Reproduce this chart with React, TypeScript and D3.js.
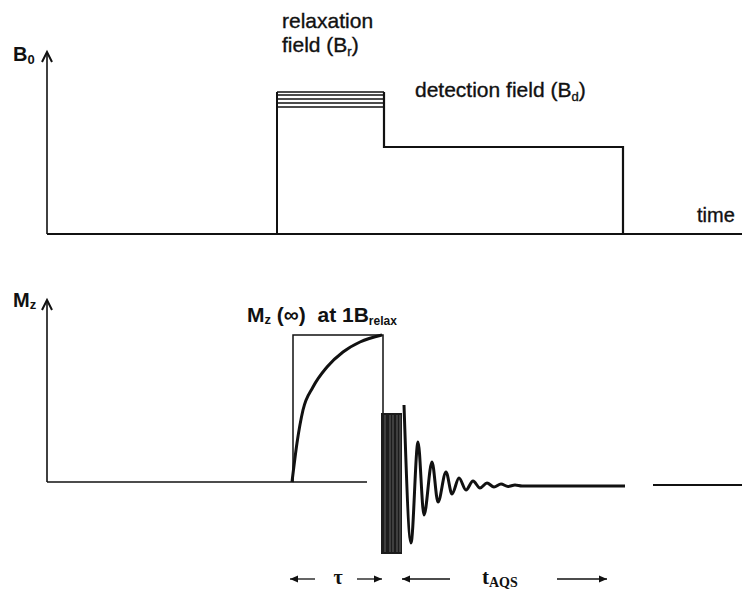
import * as d3 from 'd3';

// time axis in arbitrary units (0 = axis origin), field / magnetisation in arbitrary units
const fieldSwitchTimes = [230, 337, 576]; // relax on, relax off / detect on, detect off
const relaxLevels = [142, 139, 135, 131, 127];
const detectLevel = 87;
const axisEnd = 695;

const mzInf = 147;
const boxTimes = [246, 336];
const recovery: [number, number][] = [
  [245, 0], [250, 39], [256, 72], [266, 95], [280, 115], [296, 130], [313, 140], [335, 147],
];
const blockTimes = [334, 355];
const blockRange = [-72, 69];
const blockStripes = [338, 343, 346, 350, 353];
const oscillation: [number, number][] = [
  [357, 77], [364, -61], [371, 40], [377, -33], [385, 20], [391, -20], [399, 10], [405, -12],
  [412, 4], [419, -8], [426, 1], [433, -6], [440, -1], [447, -5], [454, -2], [461, -4.5],
  [468, -3], [475, -4], [578, -4],
];
const tailSegment = [606, 695];
const lowerBaselineEnd = 320;
const tauArrows = [[243, 268], [310, 335]];
const aqsArrows = [[355, 403], [510, 560]];

const W = 742, H = 593;
const sans = "'Liberation Sans', Arial, sans-serif";
const serif = "'Liberation Serif', 'Times New Roman', serif";
const ink = '#111';

const x = d3.scaleLinear().domain([0, 695]).range([47, 742]);
const yB = d3.scaleLinear().domain([0, 182]).range([234, 52]);
const yM = d3.scaleLinear().domain([0, 182]).range([482, 300]);

function AxisArrow({ px, py }: { px: number; py: number }) {
  return <polyline points={`${px - 5},${py + 10} ${px},${py} ${px + 5},${py + 10}`}
    fill="none" stroke={ink} strokeWidth={2} />;
}

function HArrow({ x1, x2, y, dir }: { x1: number; x2: number; y: number; dir: 1 | -1 }) {
  const tip = dir > 0 ? x2 : x1;
  return (
    <g>
      <line x1={x1} x2={x2} y1={y} y2={y} stroke={ink} strokeWidth={1.3} />
      <path d={`M${tip},${y} L${tip - dir * 8},${y - 3.5} L${tip - dir * 8},${y + 3.5} Z`} fill={ink} />
    </g>
  );
}

const label = { fontFamily: sans, fontSize: 21, fill: ink, stroke: ink, strokeWidth: 0.35 };

export default function App() {
  const [tOn, tOff, tDet] = fieldSwitchTimes;
  const recLine = d3.line<[number, number]>().x(d => x(d[0])).y(d => yM(d[1])).curve(d3.curveMonotoneX);
  const oscLine = d3.line<[number, number]>().x(d => x(d[0])).y(d => yM(d[1])).curve(d3.curveMonotoneX);
  const pulse = d3.line<[number, number]>().x(d => x(d[0])).y(d => yB(d[1]))([
    [tOn, 0], [tOn, relaxLevels[0]],
  ]);
  const detect = d3.line<[number, number]>().x(d => x(d[0])).y(d => yB(d[1]))([
    [tOff, relaxLevels[0]], [tOff, detectLevel], [tDet, detectLevel], [tDet, 0],
  ]);

  return (
    <svg width={W} height={H} style={{ position: 'absolute', left: 0, top: 0, background: '#fff' }}>
      {/* upper panel: B0 */}
      <line x1={x(0)} x2={x(0)} y1={yB(0)} y2={yB(182)} stroke={ink} strokeWidth={1.6} />
      <AxisArrow px={x(0)} py={yB(182)} />
      <line x1={x(0)} x2={x(axisEnd)} y1={yB(0)} y2={yB(0)} stroke={ink} strokeWidth={1.8} />
      <path d={pulse ?? ''} fill="none" stroke={ink} strokeWidth={2} />
      {relaxLevels.map((v, i) => (
        <line key={i} x1={x(tOn)} x2={x(tOff)} y1={yB(v)} y2={yB(v)} stroke={ink} strokeWidth={1.5} />
      ))}
      <path d={detect ?? ''} fill="none" stroke={ink} strokeWidth={2.2} />

      <text x={13} y={61} fontFamily={sans} fontWeight="bold" fontSize={20} fill={ink}>
        B<tspan fontSize={13} dy={3}>0</tspan>
      </text>
      <text x={282} y={28} {...label}>relaxation</text>
      <text x={282} y={52} {...label}>
        field (B<tspan fontSize={13} dy={4}>r</tspan><tspan dy={-4}>)</tspan>
      </text>
      <text x={415} y={97} {...label}>
        detection field (B<tspan fontSize={13} dy={4}>d</tspan><tspan dy={-4}>)</tspan>
      </text>
      <text x={697} y={222} {...label} fontSize={20}>time</text>

      {/* lower panel: Mz */}
      <line x1={x(0)} x2={x(0)} y1={yM(0)} y2={yM(182)} stroke={ink} strokeWidth={1.6} />
      <AxisArrow px={x(0)} py={yM(182)} />
      <line x1={x(0)} x2={x(lowerBaselineEnd)} y1={yM(0)} y2={yM(0)} stroke={ink} strokeWidth={1.6} />
      <path d={`M${x(boxTimes[0])},${yM(0)} V${yM(mzInf)} H${x(boxTimes[1])} V${yM(blockRange[1])}`}
        fill="none" stroke={ink} strokeWidth={1.5} />
      <path d={recLine(recovery) ?? ''} fill="none" stroke={ink} strokeWidth={3} />
      <rect x={x(blockTimes[0])} width={x(blockTimes[1]) - x(blockTimes[0])}
        y={yM(blockRange[1])} height={yM(blockRange[0]) - yM(blockRange[1])} fill="#1c1c1c" />
      {blockStripes.map((t, i) => (
        <line key={i} x1={x(t)} x2={x(t)} y1={yM(blockRange[1]) + 2} y2={yM(blockRange[0]) - 2}
          stroke="#777" strokeWidth={0.8} />
      ))}
      <path d={oscLine(oscillation) ?? ''} fill="none" stroke={ink} strokeWidth={3} strokeLinejoin="round" />
      <line x1={x(tailSegment[0])} x2={x(tailSegment[1])} y1={yM(-3)} y2={yM(-3)} stroke={ink} strokeWidth={2} />

      <text x={13} y={307} fontFamily={sans} fontWeight="bold" fontSize={20} fill={ink}>
        M<tspan fontSize={13} dy={2}>z</tspan>
      </text>
      <text x={247} y={322} fontFamily={sans} fontWeight="bold" fontSize={21} fill={ink}>
        M<tspan fontSize={13} dy={2}>z</tspan><tspan dy={-2}>{'\u00a0(\u221e)\u00a0 at 1B'}</tspan>
        <tspan fontSize={12} dy={3}>relax</tspan>
      </text>

      {tauArrows.map(([a, b], i) => (
        <HArrow key={i} x1={x(a)} x2={x(b)} y={579} dir={i === 0 ? -1 : 1} />
      ))}
      <text x={x(291)} y={584} textAnchor="middle" fontFamily={serif} fontWeight="bold" fontSize={20} fill={ink}>τ</text>
      {aqsArrows.map(([a, b], i) => (
        <HArrow key={i} x1={x(a)} x2={x(b)} y={579} dir={i === 0 ? -1 : 1} />
      ))}
      <text x={482} y={584} fontFamily={serif} fontWeight="bold" fontSize={21} fill={ink}>
        t<tspan fontSize={14} dy={3}>AQS</tspan>
      </text>
    </svg>
  );
}
